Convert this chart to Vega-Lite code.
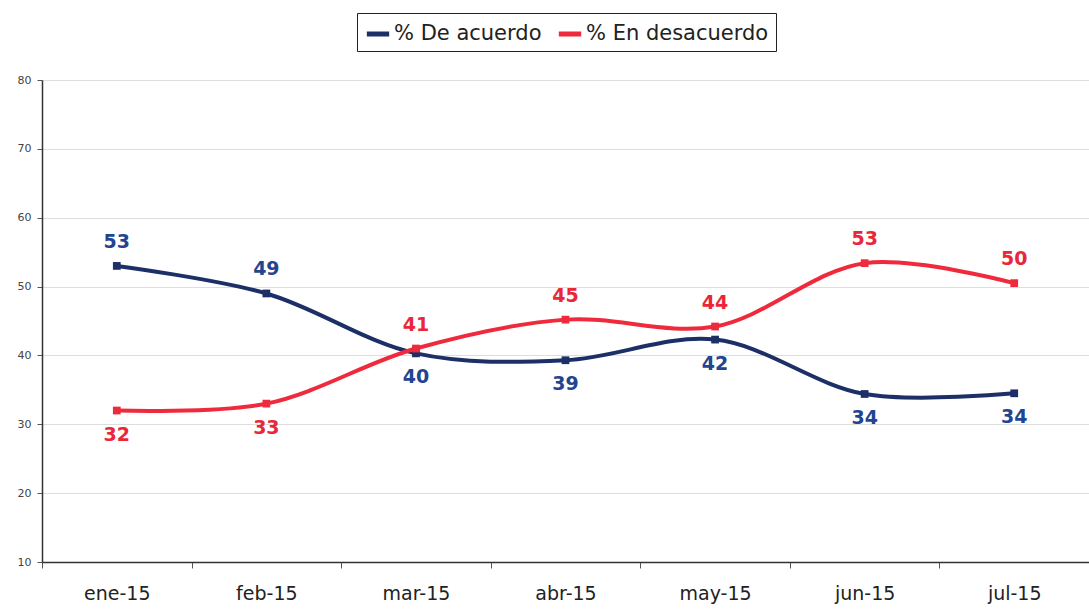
{
  "$schema": "https://vega.github.io/schema/vega-lite/v6.json",
  "autosize": "none",
  "width": 1047,
  "height": 482,
  "padding": {"left": 42, "top": 80, "right": 0, "bottom": 47},
  "background": "white",
  "config": {
    "view": {"stroke": null},
    "font": "DejaVu Sans"
  },
  "data": {
    "values": [
      {"mes": "ene-15", "serie": "% De acuerdo", "valor": 53, "etiqueta": "53"},
      {"mes": "feb-15", "serie": "% De acuerdo", "valor": 49, "etiqueta": "49"},
      {"mes": "mar-15", "serie": "% De acuerdo", "valor": 40.3, "etiqueta": "40"},
      {"mes": "abr-15", "serie": "% De acuerdo", "valor": 39.3, "etiqueta": "39"},
      {"mes": "may-15", "serie": "% De acuerdo", "valor": 42.3, "etiqueta": "42"},
      {"mes": "jun-15", "serie": "% De acuerdo", "valor": 34.4, "etiqueta": "34"},
      {"mes": "jul-15", "serie": "% De acuerdo", "valor": 34.5, "etiqueta": "34"},
      {"mes": "ene-15", "serie": "% En desacuerdo", "valor": 32, "etiqueta": "32"},
      {"mes": "feb-15", "serie": "% En desacuerdo", "valor": 33, "etiqueta": "33"},
      {"mes": "mar-15", "serie": "% En desacuerdo", "valor": 41, "etiqueta": "41"},
      {"mes": "abr-15", "serie": "% En desacuerdo", "valor": 45.2, "etiqueta": "45"},
      {"mes": "may-15", "serie": "% En desacuerdo", "valor": 44.2, "etiqueta": "44"},
      {"mes": "jun-15", "serie": "% En desacuerdo", "valor": 53.4, "etiqueta": "53"},
      {"mes": "jul-15", "serie": "% En desacuerdo", "valor": 50.5, "etiqueta": "50"}
    ]
  },
  "encoding": {
    "x": {
      "field": "mes", "type": "ordinal", "sort": null, "title": null,
      "scale": {"paddingInner": 0, "paddingOuter": 0},
      "axis": {
        "labelAngle": 0, "labelFontSize": 19, "labelColor": "#222", "labelPadding": 16,
        "domainColor": "#333", "domainWidth": 1.5, "tickColor": "#555", "tickSize": 6,
        "tickBand": "extent", "grid": false
      }
    },
    "y": {
      "field": "valor", "type": "quantitative", "title": null,
      "scale": {"domain": [10, 80], "nice": false, "zero": false},
      "axis": {
        "values": [10, 20, 30, 40, 50, 60, 70, 80], "labelFontSize": 11, "labelColor": "#444",
        "labelPadding": 6, "domainColor": "#333", "domainWidth": 1.5, "tickColor": "#555", "tickSize": 5,
        "gridColor": "#dddddd", "gridWidth": 1
      }
    }
  },
  "layer": [
    {
      "mark": {"type": "line", "interpolate": "catmull-rom", "strokeWidth": 4},
      "encoding": {
        "color": {
          "field": "serie", "type": "nominal", "title": null,
          "scale": {"domain": ["% De acuerdo", "% En desacuerdo"], "range": ["#1c2f66", "#ee2a3c"]},
          "legend": {
            "orient": "none", "legendX": 315, "legendY": -67, "direction": "horizontal",
            "labelFontSize": 21, "labelColor": "#222", "labelLimit": 400, "symbolType": "stroke", "symbolStrokeWidth": 5,
            "symbolSize": 500, "strokeColor": "#222", "padding": 7, "columnPadding": 6, "labelOffset": 2
          }
        }
      }
    },
    {
      "mark": {"type": "point", "shape": "square", "filled": true, "size": 60, "opacity": 1},
      "encoding": {
        "color": {"field": "serie", "type": "nominal"}
      }
    },
    {
      "transform": [{"filter": "(datum.serie == '% De acuerdo' && (datum.mes == 'ene-15' || datum.mes == 'feb-15')) || (datum.serie == '% En desacuerdo' && datum.mes != 'ene-15' && datum.mes != 'feb-15')"}],
      "mark": {"type": "text", "dy": -24, "fontSize": 19, "fontWeight": "bold"},
      "encoding": {
        "text": {"field": "etiqueta", "type": "nominal"},
        "color": {"condition": {"test": "datum.serie == '% De acuerdo'", "value": "#23458f"}, "value": "#e8283a"}
      }
    },
    {
      "transform": [{"filter": "!((datum.serie == '% De acuerdo' && (datum.mes == 'ene-15' || datum.mes == 'feb-15')) || (datum.serie == '% En desacuerdo' && datum.mes != 'ene-15' && datum.mes != 'feb-15'))"}],
      "mark": {"type": "text", "dy": 24, "fontSize": 19, "fontWeight": "bold"},
      "encoding": {
        "text": {"field": "etiqueta", "type": "nominal"},
        "color": {"condition": {"test": "datum.serie == '% De acuerdo'", "value": "#23458f"}, "value": "#e8283a"}
      }
    }
  ]
}
